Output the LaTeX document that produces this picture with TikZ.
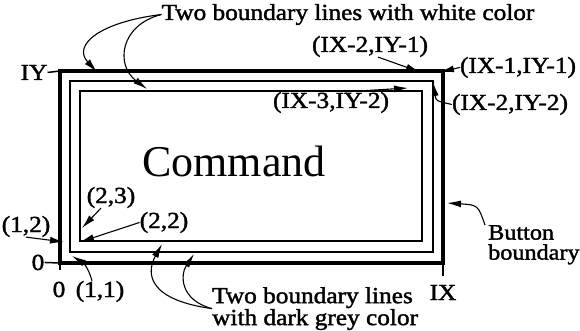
\documentclass[tikz,border=0pt]{standalone}
\usepackage{fontspec}
\setmainfont{Liberation Serif}
\newfontfamily\lblfont{Liberation Serif}[FakeStretch=1.1,FakeBold=1.6]
\usetikzlibrary{arrows.meta,positioning}

\begin{document}
\begin{tikzpicture}[
  x=1pt, y=-1pt,
  >={Latex[length=14pt,width=7pt]},
% 1. Outer button boundary and the inner boundary lines
  outer_line/.style={line width=3.2pt},
  inner_line/.style={line width=2.2pt},
% 2. Thin pointer lines with filled heads
  ptr_line/.style={->, line width=1.1pt},
  tick_line/.style={line width=1.5pt},
% 3. Label text
  label_font/.style={font=\lblfont\fontsize{23}{18}\selectfont, inner sep=0pt},
  multi_label/.style={label_font, align=left}
]
  \useasboundingbox (0,0) rectangle (580,331);

  % Boundary rectangles
  \draw[outer_line] (60,71) rectangle (443,263);
  \draw[inner_line] (70,81) rectangle (433,252);
  \draw[inner_line] (80,91) rectangle (422,241);

  % Command text
  \node[font=\fontsize{44}{44}\selectfont, inner sep=0pt, anchor=base] (cmd) at (234,176) {Command};

  % Labels
  \node[label_font, anchor=base] (white) at (348,20) {Two boundary lines with white color};
  \node[label_font, anchor=base] (c21) at (370,52) {(IX-2,IY-1)};
  \node[label_font, anchor=base] (c11) at (518,73) {(IX-1,IY-1)};
  \node[label_font, anchor=base] (c32) at (331,108) {(IX-3,IY-2)};
  \node[label_font, anchor=base] (c22) at (510,110) {(IX-2,IY-2)};
  \node[label_font, anchor=base] (iy) at (34,80) {IY};
  \node[label_font, anchor=base] (p23) at (111,203) {(2,3)};
  \node[label_font, anchor=base] (p22) at (164,228) {(2,2)};
  \node[label_font, anchor=base] (p12) at (26,232) {(1,2)};
  \node[label_font, anchor=base] (yzero) at (38,270) {0};
  \node[label_font, anchor=base] (xzero) at (59,297) {0};
  \node[label_font, anchor=base] (p11) at (100,297) {(1,1)};
  \node[label_font, anchor=base] (ix) at (443,300) {IX};
  \node[multi_label, anchor=north west] (grey) at (212,287) {Two boundary lines\\with dark grey color};
  \node[multi_label, font=\lblfont\fontsize{22}{20}\selectfont, anchor=north west] (button) at (488,225) {Button\\boundary};

  % Arrow tips and tick ends
  \coordinate (w1) at (97,72);
  \coordinate (w2) at (147,89);
  \coordinate (t21) at (420,72);
  \coordinate (t11) at (440,72);
  \coordinate (t32) at (408,88);
  \coordinate (t22) at (433,82);
  \coordinate (tb) at (447,203);
  \coordinate (t23) at (82,228);
  \coordinate (t22b) at (80,242);
  \coordinate (t12) at (64,242);
  \coordinate (t11b) at (72,256);
  \coordinate (g1) at (162,244);
  \coordinate (g2) at (194,254);

  % Ticks
  \draw[tick_line] (iy.east) -- (60,71);
  \draw[tick_line] (yzero.east) -- (60,263);
  \draw[tick_line] (60,263) -- (60,270);
  \draw[tick_line] (443,263) -- (443,276);

  % Pointers
  \draw[ptr_line] (white.west) .. controls (100,22) and (72,45) .. (w1);
  \draw[ptr_line] (white.west) .. controls (120,25) and (115,65) .. (w2);
  \draw[ptr_line] ([xshift=8pt]c21.south) -- (t21);
  \draw[ptr_line] (c11.west) -- (t11);
  \draw[ptr_line] ([xshift=14pt]c32.north) -- (t32);
  \draw[ptr_line] (c22.west) .. controls (436,101) .. (t22);
  \draw[ptr_line] ([xshift=-3pt]button.north west) .. controls (478,205) .. (tb);
  \draw[ptr_line] ([xshift=-10pt]p23.south) -- (t23);
  \draw[ptr_line] (p22.west) -- (t22b);
  \draw[ptr_line] (p12.south) -- (t12);
  \draw[ptr_line] ([xshift=-8pt]p11.north) .. controls (88,266) and (82,262) .. (t11b);
  \draw[ptr_line] (grey.west) .. controls (150,300) and (145,275) .. (g1);
  \draw[ptr_line] (grey.west) .. controls (180,300) and (180,275) .. (g2);
\end{tikzpicture}
\end{document}
